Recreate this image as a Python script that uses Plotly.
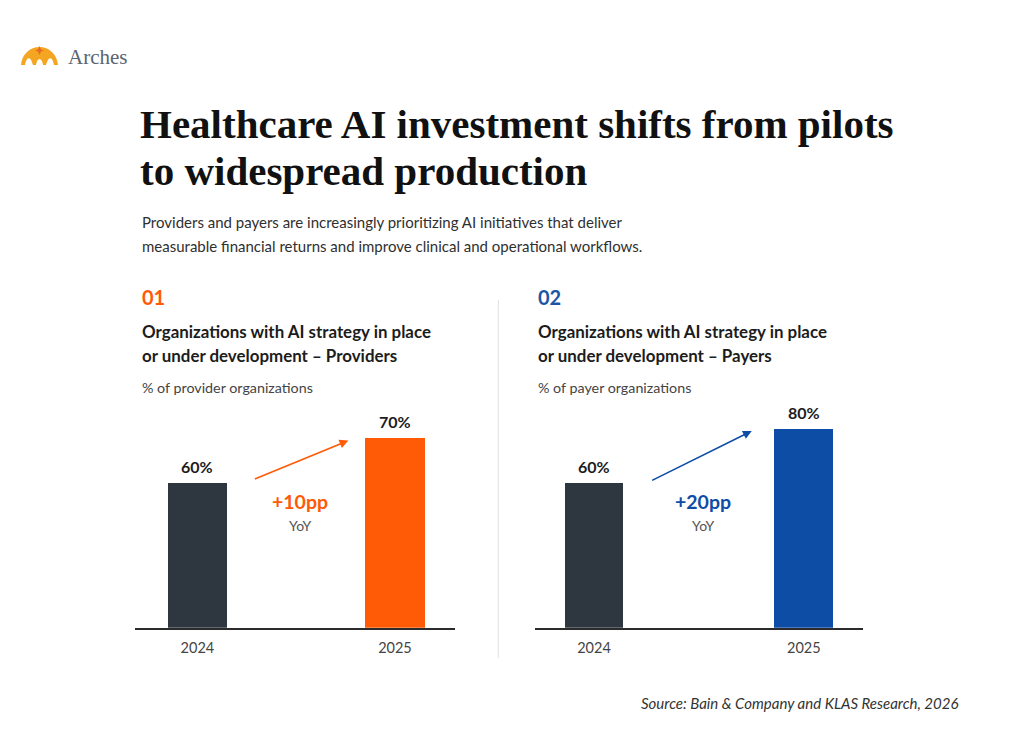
import plotly.graph_objects as go

# ---------------- data ----------------
years = ["2024", "2025"]
providers = [60, 70]
payers = [60, 80]

title_lines = ["Healthcare AI investment shifts from pilots", "to widespread production"]
subtitle_lines = [
    "Providers and payers are increasingly prioritizing AI initiatives that deliver",
    "measurable financial returns and improve clinical and operational workflows.",
]
panel_nums = ["01", "02"]
panel_titles = [
    ["Organizations with AI strategy in place", "or under development \u2013 Providers"],
    ["Organizations with AI strategy in place", "or under development \u2013 Payers"],
]
panel_units = ["% of provider organizations", "% of payer organizations"]
source = "Source: Bain & Company and KLAS Research, 2026"

# ---------------- style ----------------
W, H = 1024, 738
DARK = "#2e3640"
ORANGE = "#FF5A05"
BLUE = "#0D4DA6"
SANS = "Lato, 'Open Sans', sans-serif"
SERIF = "'Liberation Serif', 'DejaVu Serif', serif"


def fx(px):
    return px / W


def fy(py):
    return 1 - py / H


fig = go.Figure()

fig.add_trace(go.Bar(x=years, y=providers, marker=dict(color=[DARK, ORANGE], line=dict(width=0)),
                     width=0.3, xaxis="x", yaxis="y", hoverinfo="skip", showlegend=False))
fig.add_trace(go.Bar(x=years, y=payers, marker=dict(color=[DARK, BLUE], line=dict(width=0)),
                     width=0.28, xaxis="x2", yaxis="y2", hoverinfo="skip", showlegend=False))

base_px = 627.7
top_px = 400
axis_common = dict(type="category", showgrid=False, zeroline=False, showline=True, linecolor="#2b2b2b",
                   linewidth=1.5, ticks="", tickfont=dict(family=SANS, size=14.5, color="#444"),
                   ticklabelstandoff=6, fixedrange=True)
fig.update_layout(
    width=W, height=H, autosize=False,
    margin=dict(l=0, r=0, t=0, b=0),
    paper_bgcolor="white", plot_bgcolor="rgba(0,0,0,0)",
    bargap=0,
    xaxis=dict(domain=[fx(135), fx(455)], range=[-0.316, 1.304], anchor="y", **axis_common),
    yaxis=dict(domain=[fy(base_px), fy(top_px)], range=[28.3, 78.3], visible=False, anchor="x"),
    xaxis2=dict(domain=[fx(535), fx(863)], range=[-0.281, 1.282], anchor="y2", **axis_common),
    yaxis2=dict(domain=[fy(base_px), fy(top_px)], range=[6.5, 90.86], visible=False, anchor="x2"),
)

ann = []


def text(px, py, s, size, color, family=SANS, anchor="left", bold=False, italic=False):
    if bold:
        s = "<b>" + s + "</b>"
    if italic:
        s = "<i>" + s + "</i>"
    ann.append(dict(x=fx(px), y=fy(py), xref="paper", yref="paper", text=s, showarrow=False,
                    xanchor=anchor, yanchor="middle", font=dict(family=family, size=size, color=color)))


# logo text
text(66, 57, "Arches", 21, "#5b6472", family=SERIF)

# title
text(138, 124, title_lines[0], 41, "#111111", family=SERIF, bold=True)
text(138, 171, title_lines[1], 41, "#111111", family=SERIF, bold=True)

# subtitle
text(140, 222, subtitle_lines[0], 15, "#2f2f2f")
text(140, 246, subtitle_lines[1], 15, "#2f2f2f")

# panels
panel_x = [140, 536]
num_colors = [ORANGE, "#1B56A6"]
for i in range(2):
    text(panel_x[i], 297, panel_nums[i], 20, num_colors[i], bold=True)
    text(panel_x[i], 331, panel_titles[i][0], 16.9, "#1c1c1c", bold=True)
    text(panel_x[i], 356, panel_titles[i][1], 16.9, "#1c1c1c", bold=True)
    text(panel_x[i], 387, panel_units[i], 14.3, "#444444")

# value labels
for axs, vals in (("", providers), ("2", payers)):
    for i, v in enumerate(vals):
        ann.append(dict(x=i, y=v, xref="x" + axs, yref="y" + axs, text=f"<b>{v}%</b>", showarrow=False,
                        xanchor="center", yanchor="bottom", yshift=5,
                        font=dict(family=SANS, size=16, color="#1c1c1c")))

# change labels
for (cx, vals, col) in ((300, providers, ORANGE), (703, payers, BLUE)):
    text(cx, 501, f"+{vals[1] - vals[0]}pp", 19.5, col, anchor="center", bold=True)
    text(cx, 525, "YoY", 14, "#555555", anchor="center")

# arrows
for axs, vals, col, (s, e) in (("", providers, ORANGE, (0.283, 0.764)), ("2", payers, BLUE, (0.27, 0.752))):
    ann.append(dict(x=e, y=vals[1] - 0.6, ax=s, ay=vals[0] + 0.8, xref="x" + axs, yref="y" + axs,
                    axref="x" + axs, ayref="y" + axs, text="", showarrow=True,
                    arrowhead=2, arrowsize=1.1, arrowwidth=1.6, arrowcolor=col))

# source
text(960, 703, source, 15, "#333333", anchor="right", italic=True)

fig.update_layout(annotations=ann)

# divider
shapes = [dict(type="line", xref="paper", yref="paper", x0=fx(498.3), x1=fx(498.3), y0=fy(300), y1=fy(658),
               line=dict(color="#e2e2e2", width=1))]

# logo icon (dome with arches)
lx, ly = fx(21), fy(65)
GOLD = "#F4A623"
shapes.append(dict(type="path", xref="paper", yref="paper", xsizemode="pixel", ysizemode="pixel",
                   xanchor=lx, yanchor=ly,
                   path="M0,0 C1,11 9,18 18.5,18 C28,18 36,11 37,0 L33,0 C32,7 28,11 25,0 L22,0 C21,8 16,8 15,0 L12,0 C9,11 5,7 4,0 Z",
                   fillcolor=GOLD, line=dict(width=0)))
shapes.append(dict(type="path", xref="paper", yref="paper", xsizemode="pixel", ysizemode="pixel",
                   xanchor=lx, yanchor=ly,
                   path="M18.5,19 L20,15.5 L23,14.5 L20,13.5 L18.5,10 L17,13.5 L14,14.5 L17,15.5 Z",
                   fillcolor="#E86A1E", line=dict(width=0)))
fig.update_layout(shapes=shapes)

fig.write_html("out.html")
